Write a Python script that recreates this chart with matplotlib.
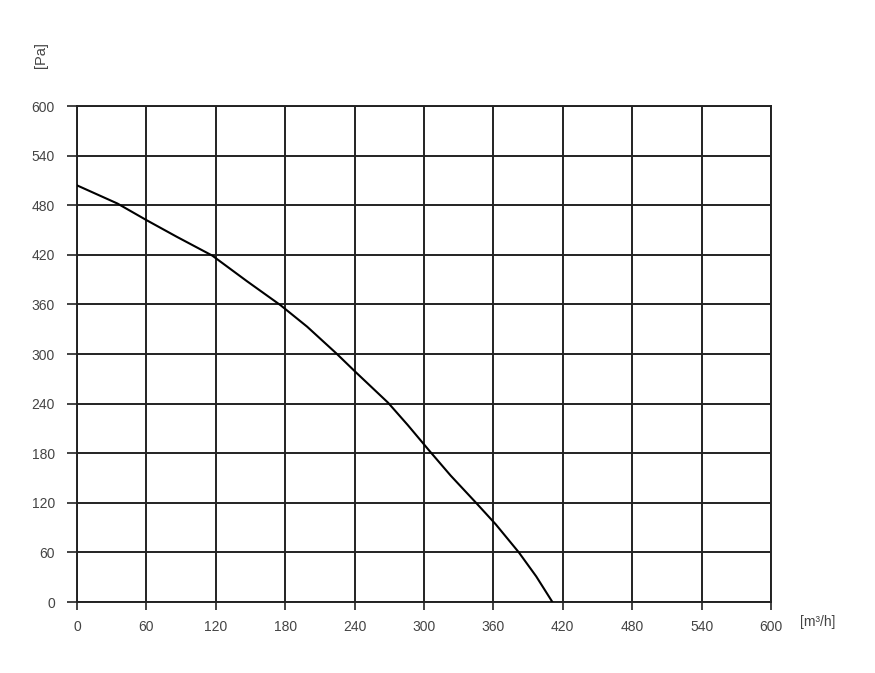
import matplotlib
matplotlib.use("Agg")
import matplotlib.pyplot as plt

# fan curve: air flow [m3/h] vs pressure [Pa]
flow = [0, 35, 60, 86, 117, 147, 176, 199, 224, 241, 269, 286, 304, 323, 345, 362, 382, 397, 411]
pressure = [504, 482, 462, 442, 419, 388, 359, 333, 301, 278, 241, 214, 184, 153, 120, 94, 60, 31, 0]

x_ticks = list(range(0, 601, 60))
y_ticks = list(range(0, 601, 60))

plt.rcParams["font.family"] = ["Liberation Sans", "DejaVu Sans"]

fig = plt.figure(figsize=(8.75, 6.73), dpi=100)
ax = fig.add_axes([77 / 875, 71 / 673, 694 / 875, 496 / 673])

ax.plot(flow, pressure, color="black", linewidth=1.5, zorder=3)

ax.set_xlim(0, 600)
ax.set_ylim(0, 600)
ax.set_xticks(x_ticks)
ax.set_yticks(y_ticks)
ax.grid(True, color="#222222", linewidth=1.4)
for s in ax.spines.values():
    s.set_color("#222222")
    s.set_linewidth(1.4)
ax.tick_params(axis="both", labelsize=10, colors="#222222", labelcolor="#444444", width=1.2)
ax.tick_params(axis="x", length=6, pad=7)
ax.tick_params(axis="y", length=7, pad=9)

fig.text(41 / 875, 1 - 55 / 673, "[Pa]", rotation=90, fontsize=10.5,
         color="#444444", ha="center", va="center")
fig.text(800 / 875, 1 - 622 / 673, "[m³/h]", fontsize=10,
         color="#444444", ha="left", va="center")

fig.savefig("out.png", dpi=100)
